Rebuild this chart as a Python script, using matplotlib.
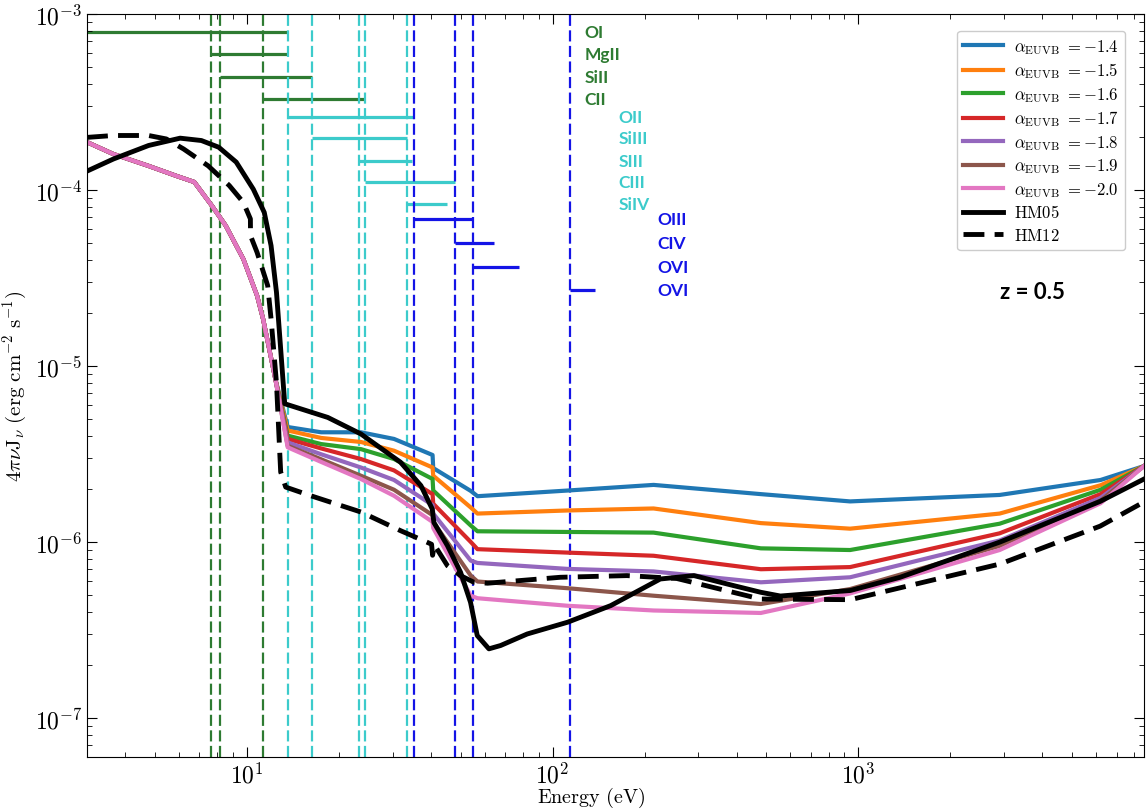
import numpy as np
import matplotlib
matplotlib.use("Agg")
import matplotlib.pyplot as plt
from matplotlib.ticker import FuncFormatter, LogLocator, NullFormatter

plt.rcParams["mathtext.fontset"] = "cm"
plt.rcParams["font.family"] = ["DejaVu Sans"]

# ---------------- data ----------------
# shared soft part of the EUVB models (eV, erg cm^-2 s^-1)
e_soft = [3.0, 3.66, 4.77, 5.9, 6.73, 7.68, 8.53, 9.74, 10.8, 11.3, 12.4]
f_soft = [1.87e-4, 1.6e-4, 1.37e-4, 1.2e-4, 1.11e-4, 8.15e-5, 6.27e-5,
          4.05e-5, 2.51e-5, 1.85e-5, 8.4e-6]

# EUV/X-ray part for each slope
e_hard = [13.6, 17.5, 23.6, 30.3, 40.5, 40.7, 54.0, 56.8, 112, 214, 480,
          940, 2900, 6200, 8600]
alphas = [-1.4, -1.5, -1.6, -1.7, -1.8, -1.9, -2.0]
f_a14 = [4.5e-6, 4.2e-6, 4.2e-6, 3.85e-6, 3.12e-6, 2.63e-6, 1.95e-6, 1.82e-6,
         1.96e-6, 2.11e-6, 1.87e-6, 1.7e-6, 1.85e-6, 2.25e-6, 2.7e-6]
f_a15 = [4.3e-6, 3.9e-6, 3.7e-6, 3.3e-6, 2.65e-6, 2.38e-6, 1.57e-6, 1.45e-6,
         1.51e-6, 1.55e-6, 1.28e-6, 1.19e-6, 1.45e-6, 2.1e-6, 2.7e-6]
f_a16 = [4.02e-6, 3.6e-6, 3.37e-6, 2.96e-6, 2.28e-6, 1.96e-6, 1.24e-6, 1.15e-6,
         1.14e-6, 1.13e-6, 9.2e-7, 9.0e-7, 1.27e-6, 1.98e-6, 2.7e-6]
f_a17 = [3.85e-6, 3.4e-6, 2.96e-6, 2.55e-6, 1.87e-6, 1.65e-6, 1.0e-6, 9.1e-7,
         8.7e-7, 8.35e-7, 7.0e-7, 7.2e-7, 1.12e-6, 1.87e-6, 2.7e-6]
f_a18 = [3.68e-6, 3.15e-6, 2.65e-6, 2.25e-6, 1.62e-6, 1.45e-6, 7.83e-7, 7.6e-7,
         7.03e-7, 6.8e-7, 5.9e-7, 6.3e-7, 1.02e-6, 1.78e-6, 2.7e-6]
f_a19 = [3.52e-6, 2.95e-6, 2.38e-6, 1.98e-6, 1.42e-6, 1.3e-6, 6.44e-7, 5.96e-7,
         5.46e-7, 4.95e-7, 4.44e-7, 5.4e-7, 9.5e-7, 1.72e-6, 2.7e-6]
f_a20 = [3.45e-6, 2.85e-6, 2.28e-6, 1.83e-6, 1.3e-6, 1.2e-6, 4.95e-7, 4.79e-7,
         4.34e-7, 4.08e-7, 3.95e-7, 5.1e-7, 9.0e-7, 1.66e-6, 2.7e-6]

# Haardt & Madau backgrounds
e_hm05 = [3.0, 3.66, 4.77, 6.05, 7.1, 8.09, 9.23, 10.5, 11.4, 12.0, 12.5, 12.9,
          13.3, 18.4, 23.6, 31.8, 37.1, 40.4, 40.9, 45.3, 50.0, 53.9, 56.7,
          61.9, 67.6, 82.6, 112, 155, 225, 290, 391, 479, 556, 942, 1370,
          2910, 6180, 8610]
f_hm05 = [1.28e-4, 1.5e-4, 1.79e-4, 1.97e-4, 1.91e-4, 1.75e-4, 1.44e-4,
          1.01e-4, 7.46e-5, 4.83e-5, 2.62e-5, 1.25e-5, 6.1e-6, 5.1e-6,
          4.11e-6, 2.84e-6, 2.09e-6, 1.54e-6, 1.29e-6, 9.53e-7, 6.73e-7,
          4.54e-7, 2.94e-7, 2.47e-7, 2.58e-7, 3.0e-7, 3.5e-7, 4.35e-7,
          6.16e-7, 6.44e-7, 5.65e-7, 5.18e-7, 4.93e-7, 5.3e-7, 6.3e-7,
          1.0e-6, 1.7e-6, 2.28e-6]
e_hm12 = [3.0, 3.66, 4.77, 5.45, 6.21, 7.48, 8.76, 9.74, 10.27, 10.28, 10.8,
          11.7, 12.0, 12.5, 12.9, 13.4, 16.2, 23.6, 31.8, 38.9, 40.2, 40.5,
          41.1, 45.3, 50.0, 55.3, 61.3, 106, 175, 255, 479, 942, 2910, 6180,
          8610]
f_hm12 = [1.99e-4, 2.04e-4, 2.04e-4, 1.95e-4, 1.71e-4, 1.37e-4, 1.06e-4,
          8.5e-5, 6.85e-5, 5.5e-5, 4.42e-5, 2.86e-5, 1.85e-5, 8.0e-6, 2.5e-6,
          2.05e-6, 1.83e-6, 1.48e-6, 1.16e-6, 9.96e-7, 9.7e-7, 8.4e-7, 9.6e-7,
          7.33e-7, 6.44e-7, 5.9e-7, 5.83e-7, 6.3e-7, 6.44e-7, 6.2e-7, 4.74e-7,
          4.7e-7, 7.5e-7, 1.23e-6, 1.69e-6]

# ionisation edges (eV)
edges_low = [7.65, 8.15, 11.26]
edges_mid = [13.6, 16.35, 23.34, 24.38, 33.49]
edges_high = [35.12, 47.89, 54.94, 113.9]

# ion existence ranges: name, lower edge, upper edge, level
ions_low = ["OI", "MgII", "SiII", "CII"]
lo_low = [3.0, 7.65, 8.15, 11.26]
hi_low = [13.6, 13.6, 16.35, 24.38]
lev_low = [7.9e-4, 5.9e-4, 4.4e-4, 3.3e-4]

ions_mid = ["OII", "SiIII", "SIII", "CIII", "SiIV"]
lo_mid = [13.6, 16.35, 23.34, 24.38, 33.49]
hi_mid = [35.12, 33.49, 34.79, 47.89, 45.14]
lev_mid = [2.6e-4, 1.97e-4, 1.47e-4, 1.11e-4, 8.3e-5]

ions_high = ["OIII", "CIV", "OVI", "OVI"]
lo_high = [35.12, 47.89, 54.94, 113.9]
hi_high = [54.94, 64.49, 77.41, 138.1]
lev_high = [6.8e-5, 5.0e-5, 3.65e-5, 2.7e-5]

# ---------------- figure ----------------
fig = plt.figure(figsize=(11.46, 8.12), dpi=100)
ax = fig.add_axes([87 / 1146, 1 - 758 / 812, (1144 - 87) / 1146, (758 - 15) / 812])

c_low = "#2e7b32"
c_mid = "#3ccbcb"
c_high = "#1414e6"
dash = (0, (5.0, 2.0))

groups = [
    (edges_low, ions_low, lo_low, hi_low, lev_low, c_low, 127),
    (edges_mid, ions_mid, lo_mid, hi_mid, lev_mid, c_mid, 164),
    (edges_high, ions_high, lo_high, hi_high, lev_high, c_high, 220),
]
for edges, names, los, his, levs, col, xtxt in groups:
    for e in edges:
        ax.axvline(e, color=col, lw=1.6, ls=dash, zorder=1)
    for name, lo, hi, lev in zip(names, los, his, levs):
        ax.plot([lo, hi], [lev, lev], color=col, lw=2.3, solid_capstyle="butt",
                zorder=1)
        ax.text(xtxt, lev, name, color=col, fontsize=12.5, fontweight="bold",
                family="Lato", ha="left", va="center")

curves = [f_a14, f_a15, f_a16, f_a17, f_a18, f_a19, f_a20]
for i, (a, f) in enumerate(zip(alphas, curves)):
    ax.plot(e_soft + e_hard, f_soft + f, color=f"C{i}", lw=3.0,
            solid_joinstyle="round",
            label=r"$\alpha_{\rm EUVB}\ = %.1f$" % a, zorder=2)

ax.plot(e_hm05, f_hm05, color="black", lw=3.5, label=r"$\rm HM05$", zorder=3)
ax.plot(e_hm12, f_hm12, color="black", lw=3.5, ls=(0, (4.3, 2.1)),
        label=r"$\rm HM12$", zorder=3)

ax.set_xscale("log")
ax.set_yscale("log")
ax.set_xlim(3.0, 8600)
ax.set_ylim(6.0e-8, 1e-3)

fmt = FuncFormatter(lambda v, p: r"$10^{%d}$" % int(round(np.log10(v))))
ax.xaxis.set_major_formatter(fmt)
ax.yaxis.set_major_formatter(fmt)
ax.xaxis.set_minor_locator(LogLocator(base=10, subs=np.arange(2, 10)))
ax.yaxis.set_minor_locator(LogLocator(base=10, subs=np.arange(2, 10)))
ax.xaxis.set_minor_formatter(NullFormatter())
ax.yaxis.set_minor_formatter(NullFormatter())
ax.tick_params(which="both", direction="in", top=True, right=True,
               labelsize=17)
ax.tick_params(which="major", length=7)
ax.tick_params(which="minor", length=3.5)

ax.set_xlabel(r"$\mathrm{Energy\ (eV)}$", fontsize=14.5)
ax.xaxis.set_label_coords(0.477, -0.038)
ax.set_ylabel(r"$4\pi\nu\mathrm{J}_{\nu}\ (\mathrm{erg\ cm^{-2}\ s^{-1}})$",
              fontsize=15)

ax.text(0.894, 0.627, "z = 0.5", transform=ax.transAxes, fontsize=16,
        fontweight="bold", family="Lato", ha="center", va="center")

leg = ax.legend(loc="upper right", bbox_to_anchor=(0.982, 0.977),
                fontsize=12, handlelength=2.4, handletextpad=0.65,
                labelspacing=0.28, borderpad=0.35, borderaxespad=0.0,
                fancybox=True, framealpha=1.0, edgecolor="#cccccc")

fig.savefig("out.png", dpi=100)
